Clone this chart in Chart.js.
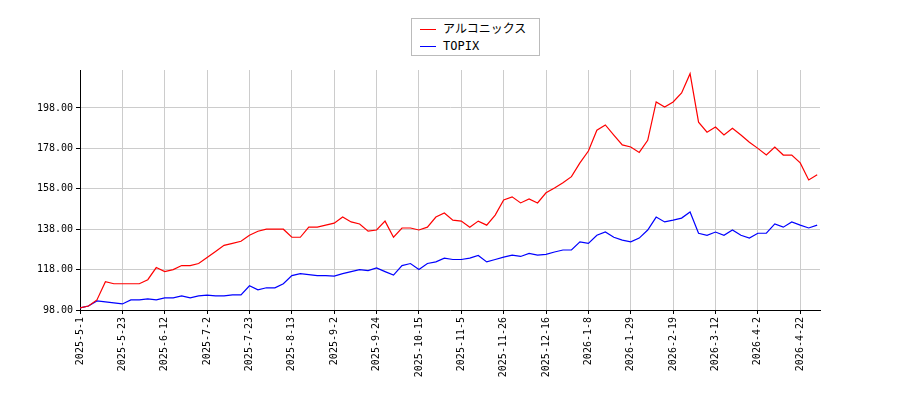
<!DOCTYPE html>
<html><head><meta charset="utf-8">
<script src="https://cdn.jsdelivr.net/npm/chart.js@4/dist/chart.umd.min.js"></script>
<style>
body{margin:0;background:#fff;}
#wrap{position:relative;width:900px;height:400px;}
#legend{position:absolute;left:411px;top:18px;width:129px;height:38px;border:1px solid #bbb;background:#fff;font-family:"DejaVu Sans Mono","Noto Sans CJK JP",monospace;font-size:12px;box-sizing:border-box;padding:2px 0 0 8px;line-height:17px;}
.it{display:flex;align-items:center;}
.ln{display:inline-block;width:16px;height:0;border-top:1.5px solid;margin-right:7px;}
</style></head><body>
<div id="wrap"><canvas id="c" width="900" height="400"></canvas>
<div id="legend"><div class="it"><span class="ln" style="border-color:red"></span>アルコニックス</div><div class="it"><span class="ln" style="border-color:blue"></span>TOPIX</div></div></div>
<script>
const tickLabels=["2025-5-1","2025-5-23","2025-6-12","2025-7-2","2025-7-23","2025-8-13","2025-9-2","2025-9-24","2025-10-15","2025-11-5","2025-11-26","2025-12-16","2026-1-8","2026-1-29","2026-2-19","2026-3-12","2026-4-2","2026-4-22"];
const stockValues=[99,100,103,112,111,111,111,111,113,119,117,118,120,120,121,124,127,130,131,132,135,137,138,138,138,134,134,139,139,140,141,144,141.6,140.6,137,137.6,142,134,138.6,138.6,137.6,139,144,146,142.5,142,139,142,140,145,152.5,154,151,153,151,156,158.4,161,164,170.8,176.7,187,189.6,184.6,179.7,178.7,176,182,201,198.5,201,205.4,215,191,186,188.6,184.6,188,184.6,181,178,174.7,178.7,174.7,174.7,170.8,162.4,165];
const topixValues=[99,100,102.5,102,101.5,101,103,103,103.5,103,104,104,105,104,105,105.4,105,105,105.5,105.5,110,108,109,109,111,115,116,115.5,115,115,114.8,116,117,118,117.5,118.8,117,115.3,120,121,118,121,121.8,123.7,123,123,123.7,125,121.8,123,124.2,125.2,124.5,126,125.2,125.5,126.7,127.7,127.7,131.7,131,135,136.6,134,132.6,131.7,133.6,137.6,144,141.6,142.5,143.5,146.5,136,135,136.6,135,137.6,135,133.6,136,136,140.6,139,141.6,140,138.6,140];
const step=3;
const toPts=a=>a.map((v,i)=>({x:i*step,y:v}));
const mono='"DejaVu Sans Mono",monospace';
new Chart(document.getElementById('c'),{type:'line',
data:{datasets:[
{label:'アルコニックス',data:toPts(stockValues),borderColor:'red',borderWidth:1.2,pointRadius:0,tension:0},
{label:'TOPIX',data:toPts(topixValues),borderColor:'blue',borderWidth:1.2,pointRadius:0,tension:0}]},
options:{responsive:false,animation:false,
layout:{padding:{top:70,right:80,left:0,bottom:0}},
plugins:{legend:{display:false},tooltip:{enabled:false}},
scales:{
x:{type:'linear',min:0,max:262,
afterBuildTicks:s=>{s.ticks=tickLabels.map((t,i)=>({value:i*15}));},
afterFit:s=>{s.height=90;},
ticks:{autoSkip:false,maxRotation:90,minRotation:90,color:'#000',font:{family:mono,size:10},callback:(v)=>tickLabels[Math.round(v/15)]},
grid:{color:'#cccccc',drawTicks:true,tickColor:'#000',tickLength:4},border:{color:'#000'}},
y:{min:98,max:216.8,
afterBuildTicks:s=>{s.ticks=[98,118,138,158,178,198].map(v=>({value:v}));},
afterFit:s=>{s.width=80;},
ticks:{color:'#000',font:{family:mono,size:10},callback:v=>v.toFixed(2)},
grid:{color:'#cccccc',tickColor:'#000',tickLength:4},border:{color:'#000'}}
}}});
</script></body></html>
